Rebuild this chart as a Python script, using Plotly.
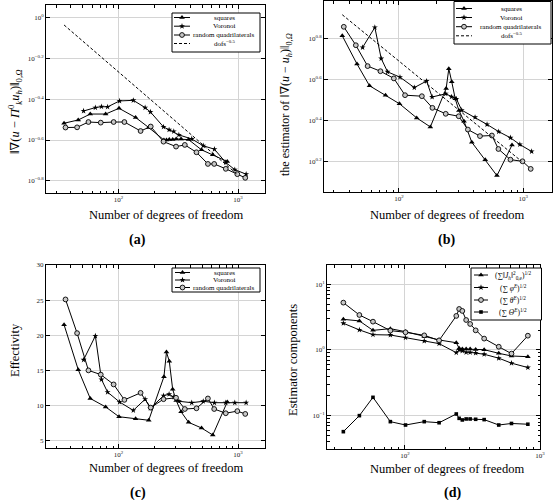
import plotly.graph_objects as go

W, H = 553, 500

# ---------------- data ----------------
dofs_squares = [35, 46, 58, 78, 101, 139, 179, 240, 252, 266, 284, 304, 334, 386, 495, 615, 813]
dofs_voronoi = [51, 64, 72, 81, 102, 133, 167, 185, 238, 265, 290, 320, 410, 512, 635, 790, 940, 1170]
dofs_quads = [36, 45, 56, 71, 91, 112, 153, 186, 238, 303, 359, 449, 560, 632, 790, 987, 1150]
dofs_ref = [35, 970]

# (a) ||grad(u - Pi u_h)||
err_squares = [0.3034, 0.3148, 0.3365, 0.3365, 0.3589, 0.3236, 0.2891, 0.2512, 0.2512, 0.2529,
               0.2529, 0.2541, 0.2541, 0.2523, 0.2249, 0.2128, 0.1972]
err_voronoi = [0.3483, 0.3618, 0.3656, 0.3648, 0.3899, 0.3926, 0.3618, 0.3443, 0.2911, 0.2818,
               0.2767, 0.2661, 0.2541, 0.2355, 0.2265, 0.1950, 0.1799, 0.1710]
err_quads = [0.2891, 0.2897, 0.3076, 0.3055, 0.3076, 0.3076, 0.2780, 0.2924, 0.2466, 0.2333,
             0.2377, 0.2188, 0.1919, 0.1919, 0.1816, 0.1710, 0.1641]
err_ref = [0.917, 0.172]

# (b) estimator
est_squares = [6.501, 4.732, 3.707, 3.334, 3.027, 2.582, 2.333, 3.597, 4.487, 3.882,
               3.199, 2.805, 2.489, 1.963, 1.614, 1.349, 1.901]
est_voronoi = [5.702, 7.145, 5.035, 4.335, 4.083, 3.631, 3.908, 3.266, 3.388, 3.273,
               3.199, 2.818, 2.600, 2.399, 2.213, 2.065, 1.914, 1.770]
est_quads = [7.194, 5.848, 4.624, 4.365, 4.027, 3.334, 3.296, 2.891, 2.704, 2.630,
             2.265, 2.104, 2.118, 1.820, 1.614, 1.585, 1.455]
est_ref = [8.24, 1.585]

# (c) effectivity
eff_squares = [21.5, 15.1, 11.0, 9.8, 8.4, 8.1, 7.9, 14.1, 17.6, 16.3, 12.3, 10.7, 9.1, 7.6, 6.8, 5.8, 10.5]
eff_voronoi = [16.5, 19.9, 13.7, 11.9, 10.5, 9.3, 10.9, 9.6, 11.4, 11.6, 11.2, 10.6, 10.4, 10.6,
               10.4, 10.4, 10.4, 10.4]
eff_quads = [25.1, 20.3, 15.0, 14.4, 13.0, 10.8, 11.8, 9.7, 10.9, 11.1, 9.5, 9.6, 11.0, 9.5, 8.9, 9.2, 8.8]

# (d) estimator components (squares meshes)
comp_jump = [2.93, 2.77, 1.99, 2.11, 1.90, 1.60, 1.42, 1.29, 1.06, 1.035, 1.035, 1.035, 1.02, 1.01, 0.89, 0.81, 0.79]
comp_phi = [2.55, 2.02, 1.71, 1.69, 1.54, 1.37, 1.25, 0.91, 1.00, 0.97, 0.92, 0.92, 0.90, 0.86, 0.75, 0.63, 0.54]
comp_theta = [5.26, 3.41, 2.70, 1.97, 1.86, 1.67, 1.40, 3.30, 4.21, 3.93, 2.86, 2.49, 1.99, 1.49, 1.12, 0.88, 1.65]
comp_Theta = [0.057, 0.100, 0.190, 0.081, 0.072, 0.081, 0.078, 0.106, 0.091, 0.086, 0.089, 0.089, 0.088,
              0.087, 0.072, 0.076, 0.074]

# tick labels
xtick_exps = [2, 3]
ya_exps = [-0.8, -0.6, -0.4, -0.2, 0]
yb_exps = [0.2, 0.4, 0.6, 0.8]
yc_vals = [5, 10, 15, 20, 25, 30]
yd_exps = [-1, 0, 1]

names_main = ["squares", "Voronoi", "random quadrilaterals", "dofs<sup>−0.5</sup>"]
names_comp = ["(∑‖<i>J<sub>h</sub></i>‖<sup>2</sup><sub>0,e</sub>)<sup>1/2</sup>",
              "(∑ <i>φ<sup>E</sup></i>)<sup>1/2</sup>",
              "(∑ <i>θ<sup>E</sup></i>)<sup>1/2</sup>",
              "(∑ <i>Θ<sup>E</sup></i>)<sup>1/2</sup>"]

# ---------------- styling ----------------
SERIF = "Liberation Serif, DejaVu Serif, serif"
GRID = "#d4d4d4"


def px_dom_x(l, r):
    return [l / W, r / W]


def px_dom_y(t, b):
    return [1 - b / H, 1 - t / H]


def exp_label(e):
    s = ("%g" % e).replace("-", "−")
    return "10<sup>%s</sup>" % s


def minor_log(lo, hi):
    out = []
    for k in range(-3, 5):
        for m in range(2, 10):
            v = m * 10 ** k
            if 10 ** lo <= v <= 10 ** hi:
                out.append(v)
    return out


def log_axis(rng, exps, minor=True):
    d = dict(type="log", range=rng, tickmode="array",
             tickvals=[10 ** e for e in exps], ticktext=[exp_label(e) for e in exps],
             ticks="inside", ticklen=4, tickcolor="black", tickwidth=0.8,
             showline=True, linecolor="black", linewidth=1, mirror="ticks",
             showgrid=True, gridcolor=GRID, gridwidth=1, zeroline=False,
             tickfont=dict(family=SERIF, size=7, color="#222"))
    if minor:
        d["minor"] = dict(tickmode="array", tickvals=minor_log(rng[0], rng[1]),
                          ticks="inside", ticklen=2.5, tickcolor="black", tickwidth=0.6,
                          showgrid=False)
    return d


fig = go.Figure()

MK_SQ = dict(symbol="triangle-up", size=5, color="black")
MK_VO = dict(symbol="star", size=4.5, color="black")
MK_RQ = dict(symbol="circle", size=4.8, color="#c8c8c8", line=dict(color="black", width=0.9))
MK_TH = dict(symbol="square", size=3.6, color="black")
LINE = dict(color="black", width=1)


def add(x, y, marker, xa, ya, dash=None, mode="lines+markers"):
    ln = dict(LINE)
    if dash:
        ln["dash"] = dash
    fig.add_trace(go.Scatter(x=x, y=y, mode=mode, line=ln,
                             marker=marker if mode != "lines" else None,
                             xaxis=xa, yaxis=ya, showlegend=False, hoverinfo="skip"))


# (a)
add(dofs_squares, err_squares, MK_SQ, "x", "y")
add(dofs_voronoi, err_voronoi, MK_VO, "x", "y")
add(dofs_quads, err_quads, MK_RQ, "x", "y")
add(dofs_ref, err_ref, None, "x", "y", dash="3px,2px", mode="lines")
# (b)
add(dofs_squares, est_squares, MK_SQ, "x2", "y2")
add(dofs_voronoi, est_voronoi, MK_VO, "x2", "y2")
add(dofs_quads, est_quads, MK_RQ, "x2", "y2")
add(dofs_ref, est_ref, None, "x2", "y2", dash="3px,2px", mode="lines")
# (c)
add(dofs_squares, eff_squares, MK_SQ, "x3", "y3")
add(dofs_voronoi, eff_voronoi, MK_VO, "x3", "y3")
add(dofs_quads, eff_quads, MK_RQ, "x3", "y3")
# (d)
add(dofs_squares, comp_jump, MK_SQ, "x4", "y4")
add(dofs_squares, comp_phi, MK_VO, "x4", "y4")
add(dofs_squares, comp_theta, MK_RQ, "x4", "y4")
add(dofs_squares, comp_Theta, MK_TH, "x4", "y4")

# ---------------- legends drawn on a pixel overlay ----------------
ann = []


def text(xpx, ypx, s, size=12.5, angle=0, xanchor="center"):
    ann.append(dict(x=xpx / W, y=1 - ypx / H, xref="paper", yref="paper", text=s,
                    showarrow=False, textangle=angle, xanchor=xanchor, yanchor="middle",
                    font=dict(family=SERIF, size=size, color="black")))


def legend(box, rows, lx, tx, markers, dashes, labels, fsize=7):
    x0, y0, x1, y1 = box
    fig.add_trace(go.Scatter(x=[x0, x1, x1, x0, x0], y=[y0, y0, y1, y1, y0], mode="lines",
                             fill="toself", fillcolor="white", line=dict(color="black", width=1),
                             xaxis="x5", yaxis="y5", showlegend=False, hoverinfo="skip"))
    for yy, mk, ds, lab in zip(rows, markers, dashes, labels):
        ln = dict(color="black", width=1)
        if ds:
            ln["dash"] = ds
        fig.add_trace(go.Scatter(x=[lx[0], lx[1]], y=[yy, yy], mode="lines", line=ln,
                                 xaxis="x5", yaxis="y5", showlegend=False, hoverinfo="skip"))
        if mk:
            fig.add_trace(go.Scatter(x=[(lx[0] + lx[1]) / 2], y=[yy], mode="markers", marker=mk,
                                     xaxis="x5", yaxis="y5", showlegend=False, hoverinfo="skip"))
        text(tx, yy, lab, size=fsize)


mk_main = [MK_SQ, MK_VO, MK_RQ, None]
ds_main = [None, None, None, "3px,2px"]
legend((172, 13, 260, 52), [17.5, 26.2, 35, 43.5], (174, 190), 224, mk_main, ds_main, names_main)
legend((454, 1.5, 551, 44), [8.5, 17.5, 26.7, 35.8], (456, 472), 511, mk_main, ds_main, names_main)
legend((172, 268, 260, 292), [272.5, 280, 287.5], (175, 190), 224, mk_main[:3], ds_main[:3], names_main[:3])
legend((471, 268, 541.5, 320), [275, 287.5, 300, 312], (474, 488), 513,
       [MK_SQ, MK_VO, MK_RQ, MK_TH], [None] * 4, names_comp, fsize=7.5)

xa_rng = [1.393, 3.226]
xb_rng = [1.397, 3.228]
xd_rng = [1.423, 3.0]

lay = dict(width=W, height=H, margin=dict(l=0, r=0, t=0, b=0, autoexpand=False),
           paper_bgcolor="white", plot_bgcolor="rgba(0,0,0,0)", showlegend=False,
           font=dict(family=SERIF, color="black"))

xa = log_axis(xa_rng, xtick_exps); xa.update(domain=px_dom_x(46, 265), anchor="y")
ya = log_axis([-0.859, 0.06], ya_exps, minor=False); ya.update(domain=px_dom_y(5, 193), anchor="x")
xb = log_axis(xb_rng, xtick_exps); xb.update(domain=px_dom_x(324, 551.5), anchor="y2")
yb = log_axis([0.05, 0.983], yb_exps, minor=False); yb.update(domain=px_dom_y(1, 192), anchor="x2")
xc = log_axis(xa_rng, xtick_exps); xc.update(domain=px_dom_x(46, 265), anchor="y3")
yc = dict(type="linear", range=[3.95, 30], tickmode="array", tickvals=yc_vals,
          ticktext=[str(v) for v in yc_vals], ticks="inside", ticklen=4, tickcolor="black",
          showline=True, linecolor="black", linewidth=1, mirror="ticks",
          showgrid=True, gridcolor=GRID, zeroline=False,
          tickfont=dict(family=SERIF, size=7, color="#222"),
          domain=px_dom_y(265, 448), anchor="x3")
xd = log_axis(xd_rng, xtick_exps); xd.update(domain=px_dom_x(327, 540), anchor="y4")
yd = log_axis([-1.508, 1.294], yd_exps); yd.update(domain=px_dom_y(265, 449), anchor="x4")
x5 = dict(domain=[0, 1], range=[0, W], visible=False, anchor="y5", fixedrange=True)
y5 = dict(domain=[0, 1], range=[H, 0], visible=False, anchor="x5", fixedrange=True)

lay.update(xaxis=xa, yaxis=ya, xaxis2=xb, yaxis2=yb, xaxis3=xc, yaxis3=yc, xaxis4=xd, yaxis4=yd,
           xaxis5=x5, yaxis5=y5)

xtitle = "Number of degrees of freedom"
text(166, 215, xtitle)
text(447, 215, xtitle)
text(166, 468, xtitle)
text(447, 469, xtitle)
text(15, 112, "‖∇(<i>u</i> − <i>Π</i><sup>0</sup><sub><i>k</i></sub><i>u<sub>h</sub></i>)‖<sub>0,<i>Ω</i></sub>", size=12.5, angle=-90)
text(286, 105, "the estimator of ‖∇(<i>u</i> − <i>u<sub>h</sub></i>)‖<sub>0,<i>Ω</i></sub>", size=12, angle=-90)
text(15, 350, "Effectivity", size=12.5, angle=-90)
text(293, 360, "Estimator components", size=12.5, angle=-90)
text(137, 240, "<b>(a)</b>", size=14)
text(447, 240, "<b>(b)</b>", size=14)
text(138, 493, "<b>(c)</b>", size=14)
text(452, 493, "<b>(d)</b>", size=14)
lay["annotations"] = ann

fig.update_layout(**lay)
fig.write_html("out.html", config={"displayModeBar": False},
               post_script="document.body.style.margin='0';document.body.style.padding='0';"
                           "document.body.style.overflow='hidden';")
